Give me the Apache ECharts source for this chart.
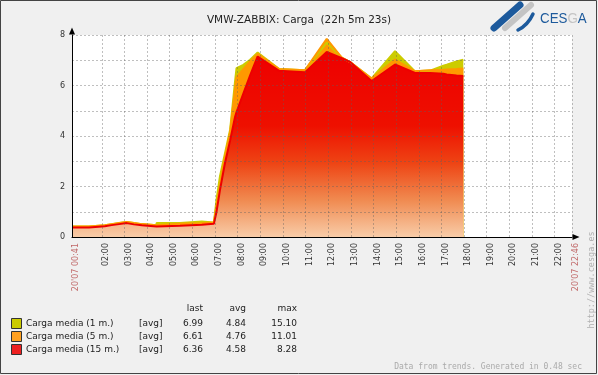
<!DOCTYPE html>
<html><head><meta charset="utf-8">
<script src="https://cdn.jsdelivr.net/npm/echarts@6/dist/echarts.min.js"></script>
<style>html,body{margin:0;padding:0;background:#f0f0f0}#c{width:598px;height:375px}</style>
</head><body><div id="c"></div>
<script>
const chartTitle = 'VMW-ZABBIX: Carga  (22h 5m 23s)';
const startTime = '00:41';
const endTime = '22:46';
const startLabel = "20'07 00:41";
const endLabel = "20'07 22:46";
const hourLabels = ['02:00','03:00','04:00','05:00','06:00','07:00','08:00','09:00','10:00','11:00','12:00',
  '13:00','14:00','15:00','16:00','17:00','18:00','19:00','20:00','21:00','22:00'];
const yLabels = [0, 2, 4, 6, 8];

const times = ['00:41','01:26','01:26','02:08','02:08','02:26','02:26','02:46','02:46','03:06','03:06','03:25','03:25',
  '03:46','03:46','04:25','04:25','05:27','05:27','06:25','06:25','06:57','07:04','07:13','07:26','07:40','07:53',
  '07:57','08:15','08:33','08:53','09:50','10:58','11:56','12:36','12:58','13:55','14:57','15:50','16:30','17:05',
  '17:14','17:40','17:58'];
const load15 = [0.38,0.38,0.43,0.43,0.47,0.47,0.51,0.51,0.55,0.55,0.50,0.50,0.47,
  0.47,0.42,0.42,0.45,0.45,0.49,0.49,0.52,0.52,1.00,1.85,2.90,3.82,4.75,
  4.95,5.68,6.40,7.15,6.58,6.52,7.33,7.08,6.93,6.18,6.83,6.50,6.50,6.47,
  6.44,6.40,6.38];
const load5 = [0.42,0.42,0.47,0.47,0.51,0.51,0.55,0.55,0.59,0.59,0.55,0.55,0.51,
  0.51,0.47,0.47,0.52,0.52,0.54,0.54,0.57,0.57,1.25,2.05,3.15,4.15,5.85,
  6.33,6.65,6.95,7.25,6.65,6.60,7.85,7.10,6.93,6.28,7.03,6.56,6.60,6.62,
  6.63,6.65,6.67];
const load1 = [0.42,0.42,0.47,0.47,0.51,0.51,0.55,0.55,0.59,0.59,0.55,0.55,0.51,
  0.51,0.47,0.47,0.55,0.55,0.61,0.61,0.57,0.57,1.48,2.40,3.29,4.25,6.15,
  6.69,6.82,7.02,7.31,6.65,6.60,7.70,7.10,6.93,6.28,7.36,6.56,6.59,6.78,
  6.82,6.95,7.02];

const seriesNames = ['Carga media (1 m.)', 'Carga media (5 m.)', 'Carga media (15 m.)'];
const legendFunc = ['[avg]', '[avg]', '[avg]'];
const legendLast = ['6.99', '6.61', '6.36'];
const legendAvg = ['4.84', '4.76', '4.58'];
const legendMax = ['15.10', '11.01', '8.28'];
const legendHeaders = ['last', 'avg', 'max'];
const footerText = 'Data from trends. Generated in 0.48 sec';
const siteText = 'http://www.cesga.es';

const colors = ['#cccc00', '#ff9900', '#ee0000'];
const legendColors = ['#cccc00', '#ffa020', '#ee2020'];

function toMin(s) { const p = s.split(':'); return (+p[0]) * 60 + (+p[1]); }
function fmt(m) { const h = Math.floor(m / 60), mm = m % 60; return (h < 10 ? '0' : '') + h + ':' + (mm < 10 ? '0' : '') + mm; }

const xStart = toMin(startTime), xEnd = toMin(endTime);
const tickVals = [xStart].concat(hourLabels.map(toMin), [xEnd]);
const loads = [load1, load5, load15];

const gridLine = { show: true, lineStyle: { color: 'rgba(95,95,95,0.40)', width: 1, type: [2, 2] } };
const font = 'DejaVu Sans';

const series = loads.map((arr, k) => ({
  type: 'line', name: seriesNames[k], symbol: 'none', animation: false,
  data: times.map((t, i) => [toMin(t), arr[i]]),
  lineStyle: { color: colors[k], width: 2 },
  areaStyle: k < 2 ? { color: colors[k], opacity: 1 } : {
    opacity: 1,
    color: { type: 'linear', x: 0, y: 0, x2: 0, y2: 1, colorStops: [
      { offset: 0, color: '#ee0000' }, { offset: 0.4, color: '#ee1000' },
      { offset: 0.6, color: '#ee4414' }, { offset: 0.8, color: '#f08a50' },
      { offset: 1, color: '#f8cca8' }] }
  }
}));

const graphics = [
  { type: 'rect', shape: { x: 0.5, y: 0.5, width: 596, height: 373 }, style: { fill: 'none', stroke: '#444', lineWidth: 1 }, silent: true },
  { type: 'text', x: 299, y: 20, style: { text: chartTitle, fill: '#222', font: '10.5px "DejaVu Sans"', align: 'center', verticalAlign: 'middle' } },
  // logo
  { type: 'line', shape: { x1: 494, y1: 28, x2: 520, y2: 5 }, style: { stroke: '#1d5a9c', lineWidth: 7, lineCap: 'round' } },
  { type: 'line', shape: { x1: 505, y1: 28, x2: 531, y2: 5 }, style: { stroke: '#c4c4c4', lineWidth: 6, lineCap: 'round' } },
  { type: 'bezierCurve', shape: { x1: 518, y1: 30, cpx1: 528, cpy1: 25, x2: 533, y2: 14 }, style: { stroke: '#1d5a9c', lineWidth: 3.5, lineCap: 'round', fill: 'none' } },
  { type: 'text', x: 540, y: 19, scaleX: 0.89, style: { text: '{b|CES}{g|G}{b|A}', font: '15px "Liberation Sans"', verticalAlign: 'middle',
      rich: { b: { fill: '#1d5a9c', fontSize: 15, fontFamily: 'Liberation Sans' }, g: { fill: '#c4c4c4', fontSize: 15, fontFamily: 'Liberation Sans' } } } },
  { type: 'text', x: 582, y: 367, style: { text: footerText, fill: '#aaaaaa', font: '8px "DejaVu Sans Mono"', align: 'right', verticalAlign: 'middle' } },
  { type: 'text', x: 592, y: 280, rotation: Math.PI / 2, style: { text: siteText, fill: '#b0b0b0', font: '8.5px "DejaVu Sans Mono"', align: 'center', verticalAlign: 'middle' } }
];
const rowY = [324, 337, 350];
const hdrX = [203, 246, 297];
legendHeaders.forEach((h, j) => graphics.push({ type: 'text', x: hdrX[j], y: 309, style: { text: h, fill: '#222', font: '9px "DejaVu Sans"', align: 'right', verticalAlign: 'middle' } }));
seriesNames.forEach((n, i) => {
  const y = rowY[i];
  graphics.push({ type: 'rect', shape: { x: 11.5, y: y - 5.5, width: 10, height: 10 }, style: { fill: legendColors[i], stroke: '#333', lineWidth: 1 } });
  graphics.push({ type: 'text', x: 26, y: y, style: { text: n, fill: '#222', font: '9px "DejaVu Sans"', align: 'left', verticalAlign: 'middle' } });
  graphics.push({ type: 'text', x: 139, y: y, style: { text: legendFunc[i], fill: '#222', font: '9px "DejaVu Sans"', align: 'left', verticalAlign: 'middle' } });
  [legendLast[i], legendAvg[i], legendMax[i]].forEach((v, j) => graphics.push({ type: 'text', x: hdrX[j], y: y, style: { text: v, fill: '#222', font: '9px "DejaVu Sans"', align: 'right', verticalAlign: 'middle' } }));
});

const chart = echarts.init(document.getElementById('c'), null, { renderer: 'canvas' });
chart.setOption({
  animation: false,
  backgroundColor: '#f0f0f0',
  grid: { left: 72, right: 26, top: 35, bottom: 138, show: true, backgroundColor: '#ffffff', borderWidth: 0 },
  xAxis: {
    type: 'value', min: xStart, max: xEnd, z: 5,
    axisLine: { show: true, onZero: false, lineStyle: { color: '#000', width: 1 }, symbol: ['none', 'triangle'], symbolSize: [6, 7], symbolOffset: [0, 4] },
    axisTick: { show: false, customValues: tickVals },
    axisLabel: {
      customValues: tickVals, rotate: 90, fontSize: 8, color: '#333', fontFamily: font, margin: 6, verticalAlign: 'top',
      showMinLabel: true, showMaxLabel: true, hideOverlap: false,
      formatter: v => v === xStart ? '{e|' + startLabel + '}' : (v === xEnd ? '{e|' + endLabel + '}' : fmt(v)),
      rich: { e: { color: '#c06868', fontSize: 8, fontFamily: font } }
    },
    splitLine: gridLine
  },
  yAxis: {
    type: 'value', min: 0, max: 8, interval: 1, z: 5,
    axisLine: { show: true, lineStyle: { color: '#000', width: 1 }, symbol: ['none', 'triangle'], symbolSize: [6, 7], symbolOffset: [0, 4] },
    axisTick: { show: false },
    axisLabel: { customValues: yLabels, fontSize: 8, color: '#333', fontFamily: font, margin: 7 },
    splitLine: gridLine
  },
  series: series,
  graphic: graphics
});
</script></body></html>
